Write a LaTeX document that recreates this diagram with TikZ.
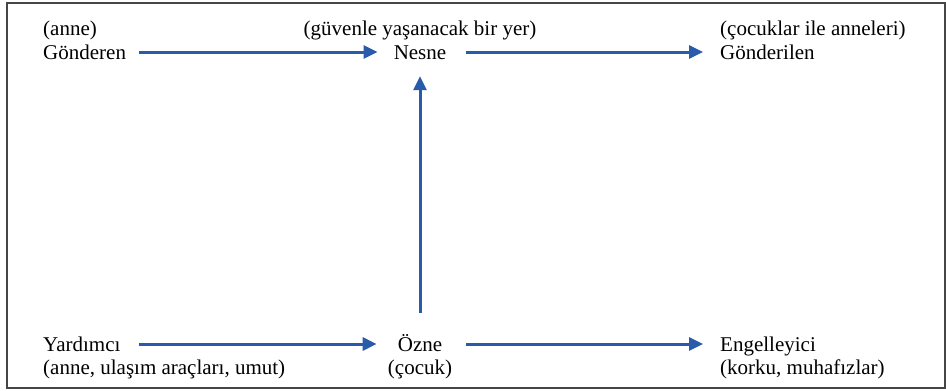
\documentclass[tikz,border=0pt]{standalone}
\usepackage{fontspec}
\setmainfont{Liberation Serif}
\newfontfamily\serifroman{Liberation Serif}
\usepackage{tikz}
\usetikzlibrary{arrows.meta, positioning}
\definecolor{actblue}{RGB}{40,92,170}
\definecolor{frame}{RGB}{70,70,70}
\tikzset{
  role/.style={inner sep=0pt, text height=14pt, text depth=0pt, font=\serifroman\fontsize{21}{24}\selectfont},
  gloss/.style={inner sep=0pt, font=\serifroman\fontsize{21}{24}\selectfont},
  act/.style={draw=actblue, line width=3pt, -{Triangle[length=14pt,width=13pt]}}
}

\begin{document}
\begin{tikzpicture}[x=1pt, y=-1pt]
\useasboundingbox (0,0) rectangle (946,391);
\draw[frame, line width=1.6pt] (7,3) rectangle (945,388);
%
% top row
\node[gloss, anchor=base west] (anne)   at (43,35.5)  {(anne)};
\node[role,  anchor=base west] (gond)   at (43,59)    {Gönderen};
\node[gloss, anchor=base]      (yer)    at (420,35.5) {(güvenle yaşanacak bir yer)};
\node[role,  anchor=base]      (nesne)  at (420,59)   {Nesne};
\node[gloss, anchor=base west] (cocuklar) at (720,35.5) {(çocuklar ile anneleri)};
\node[role,  anchor=base west] (gondil) at (720,59)   {Gönderilen};
%
% bottom row
\node[role,  anchor=base west] (yard)   at (43,351)   {Yardımcı};
\node[gloss, anchor=base west] (araclar) at (43,374)  {(anne, ulaşım araçları, umut)};
\node[role,  anchor=base]      (ozne)   at (420,351)  {Özne};
\node[gloss, anchor=base]      (cocuk)  at (420,374)  {(çocuk)};
\node[role,  anchor=base west] (engel)  at (720,351)  {Engelleyici};
\node[gloss, anchor=base west] (korku)  at (720,374)  {(korku, muhafızlar)};
%
\draw[act, shorten <=13pt, shorten >=16pt] (gond.east) -- (nesne.west);
\draw[act, shorten <=20pt, shorten >=17pt] (nesne.east) -- (gondil.west);
\draw[act, shorten <=18pt, shorten >=21pt] (yard.east) -- (ozne.west);
\draw[act, shorten <=24pt, shorten >=17pt] (ozne.east) -- (engel.west);
\draw[act, shorten <=24pt, shorten >=17pt] (ozne.north) -- (nesne.south);
%
\end{tikzpicture}
\end{document}
